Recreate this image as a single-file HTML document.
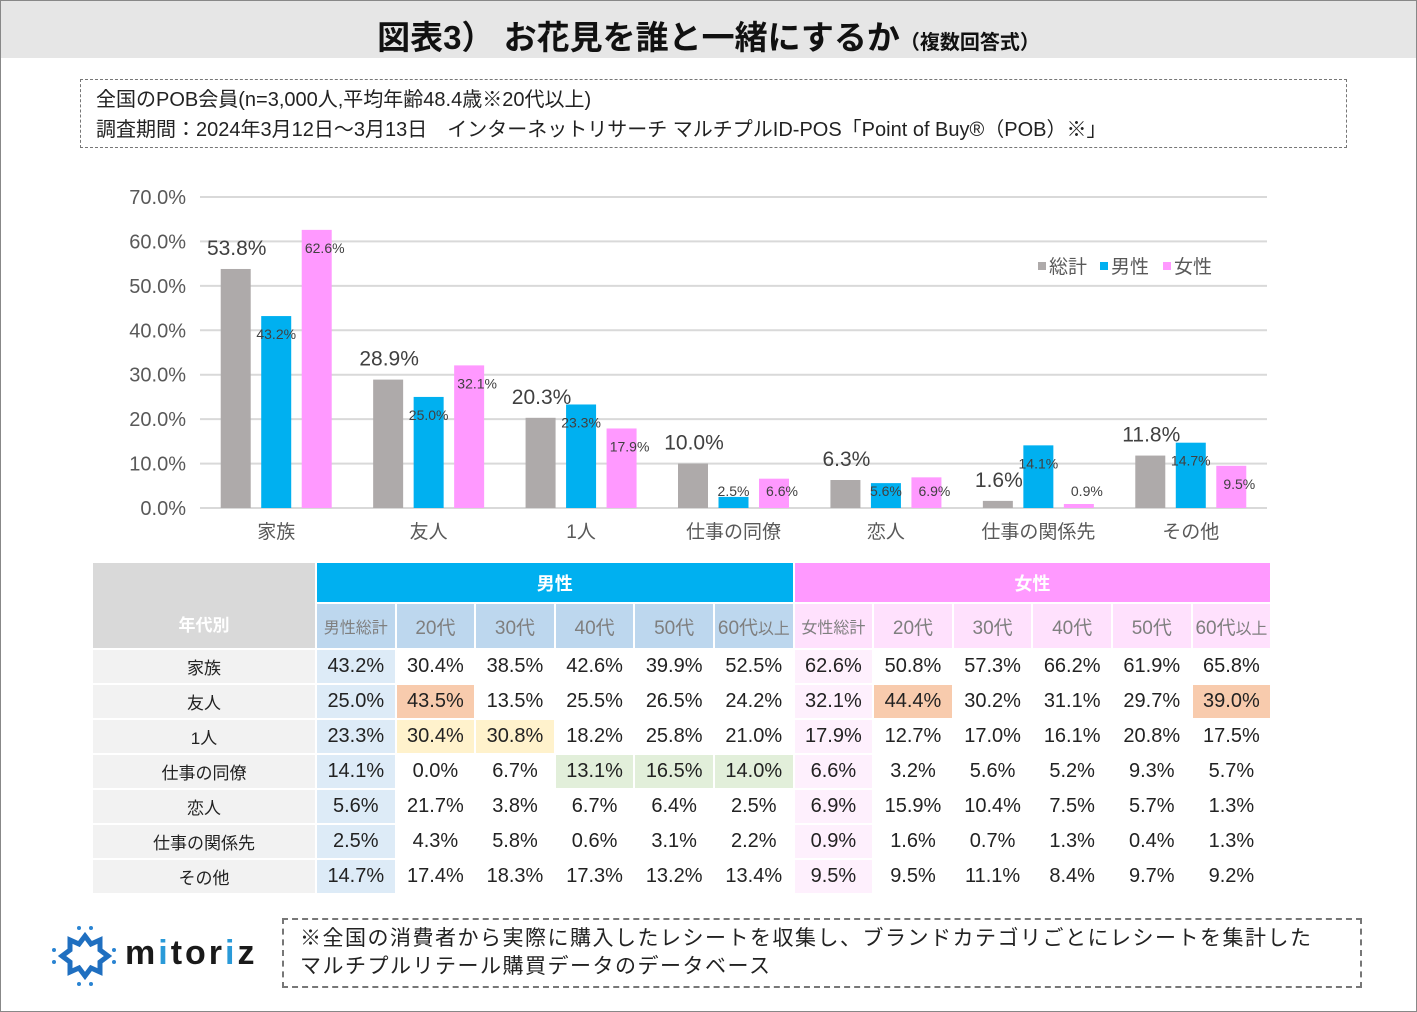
<!DOCTYPE html>
<html><head><meta charset="utf-8">
<style>
body{margin:0;width:1417px;height:1012px;background:#fff;font-family:"Liberation Sans","Noto Sans CJK JP",sans-serif;position:relative;overflow:hidden}
.abs{position:absolute}
table{border-collapse:separate;border-spacing:2px;table-layout:fixed}
</style></head><body>
<div class="abs" style="left:0;top:0;width:1415px;height:1010px;border:1px solid #888"></div>
<div class="abs" style="left:1px;top:1px;width:1415px;height:57px;background:#e6e6e6"></div>
<div class="abs" style="left:0;top:11px;width:1417px;text-align:center;font-size:33px;font-weight:bold;color:#111">図表3） お花見を誰と一緒にするか<span style="font-size:20px">（複数回答式）</span></div>
<div class="abs" style="left:80px;top:79px;width:1267px;height:69px;border:1px dashed #777;font-size:20px;color:#222;line-height:30px;padding-left:15px;box-sizing:border-box;padding-top:5px">
<div>全国のPOB会員(n=3,000人,平均年齢48.4歳※20代以上)</div>
<div>調査期間：2024年3月12日～3月13日　インターネットリサーチ マルチプルID-POS「Point of Buy®（POB）※」</div>
</div>
<svg class="abs" style="left:0;top:0" width="1417" height="560" id="chart"></svg>
<div class="abs" id="tbl" style="left:91px;top:561px"></div>
<div class="abs" style="left:50px;top:924px;width:215px;height:64px">
<svg width="70" height="64">
<polygon points="35,12 41,20 50,16 50,26 58,32 50,38 50,48 41,44 35,52 29,44 20,48 20,38 12,32 20,26 20,16 29,20" fill="none" stroke="#1f6fc0" stroke-width="5"/>
<g fill="#2a84d2"><circle cx="29" cy="4" r="2"/><circle cx="41" cy="4" r="2"/><circle cx="64" cy="26" r="2"/><circle cx="64" cy="38" r="2"/><circle cx="29" cy="60" r="2"/><circle cx="41" cy="60" r="2"/><circle cx="4" cy="26" r="2"/><circle cx="4" cy="38" r="2"/></g></svg>
<div class="abs" style="left:75px;top:10px;font-size:34px;font-weight:bold;color:#1a1a1a;letter-spacing:3px">m<span style="color:#2a9ad8">i</span>tor<span style="color:#2a9ad8">i</span>z</div>
</div>
<div class="abs" style="left:282px;top:918px;width:1080px;height:70px;border:2px dashed #777;box-sizing:border-box;font-size:21px;color:#222;line-height:28px;padding:5px 0 0 16px;letter-spacing:1.5px">※全国の消費者から実際に購入したレシートを収集し、ブランドカテゴリごとにレシートを集計した<br>マルチプルリテール購買データのデータベース</div>
<script>
const categories=["家族","友人","1人","仕事の同僚","恋人","仕事の関係先","その他"];
const totalVals=[53.8,28.9,20.3,10.0,6.3,1.6,11.8];
const maleVals=[43.2,25.0,23.3,2.5,5.6,14.1,14.7];
const femaleVals=[62.6,32.1,17.9,6.6,6.9,0.9,9.5];
const yTicks=[0,10,20,30,40,50,60,70];
const NS="http://www.w3.org/2000/svg";
const svg=document.getElementById('chart');
const y0=508,yTop=197,yMax=70,x0=200,x1=1267;
const yS=v=>y0-(y0-yTop)*v/yMax;
const band=(x1-x0)/categories.length;
const xC=i=>x0+band*(i+0.5);
function el(t,a,txt){const e=document.createElementNS(NS,t);for(const k in a)e.setAttribute(k,a[k]);if(txt!==undefined)e.textContent=txt;svg.appendChild(e);return e;}
yTicks.forEach(v=>{
 const g=el('line',{x1:x0,x2:x1,y1:yS(v),y2:yS(v),stroke:'#d9d9d9','stroke-width':2});
 
 
 const t=el('text',{x:186,y:yS(v)+7,'text-anchor':'end','font-size':20,fill:'#595959'},v.toFixed(1)+'%');
 
 
});
const series=[{vals:totalVals,c:'#aeaaaa',off:-40.5,n:'total'},{vals:maleVals,c:'#00b0f0',off:0,n:'male'},{vals:femaleVals,c:'#ff99ff',off:40.5,n:'female'}];
categories.forEach((c,i)=>{
 series.forEach((s,j)=>{
  const v=s.vals[i],cx=xC(i)+s.off;
  const r=el('rect',{x:cx-15,y:yS(v),width:30,height:y0-yS(v),fill:s.c});
  
  
  let t;
  if(j==0){t=el('text',{x:cx+1,y:yS(v)-14,'text-anchor':'middle','font-size':21,fill:'#404040'},v.toFixed(1)+'%');}
  else{const ly=Math.min(yS(v)+23,496);t=el('text',{x:cx+(j==1?0:8),y:ly,'text-anchor':'middle','font-size':14,fill:'#404040'},v.toFixed(1)+'%');}
  
  
 });
 const t=el('text',{x:xC(i),y:538,'text-anchor':'middle','font-size':19,fill:'#595959'},c);
 
 
});
[['総計','#aeaaaa',1038],['男性','#00b0f0',1100],['女性','#ff99ff',1163]].forEach(l=>{
 const r=el('rect',{x:l[2],y:262,width:8,height:8,fill:l[1]});
 
 
 const t=el('text',{x:l[2]+11,y:273,'font-size':19,fill:'#595959'},l[0]);
 
 
});
// table
const rowLabels=["家族","友人","1人","仕事の同僚","恋人","仕事の関係先","その他"];
const cols=["男性総計","20代","30代","40代","50代","60代<small>以上</small>","女性総計","20代","30代","40代","50代","60代<small>以上</small>"];
const tableVals=[
[43.2,30.4,38.5,42.6,39.9,52.5,62.6,50.8,57.3,66.2,61.9,65.8],
[25.0,43.5,13.5,25.5,26.5,24.2,32.1,44.4,30.2,31.1,29.7,39.0],
[23.3,30.4,30.8,18.2,25.8,21.0,17.9,12.7,17.0,16.1,20.8,17.5],
[14.1,0.0,6.7,13.1,16.5,14.0,6.6,3.2,5.6,5.2,9.3,5.7],
[5.6,21.7,3.8,6.7,6.4,2.5,6.9,15.9,10.4,7.5,5.7,1.3],
[2.5,4.3,5.8,0.6,3.1,2.2,0.9,1.6,0.7,1.3,0.4,1.3],
[14.7,17.4,18.3,17.3,13.2,13.4,9.5,9.5,11.1,8.4,9.7,9.2]];
const hl={"1-1":"#f8cbad","1-7":"#f8cbad","1-11":"#f8cbad","2-1":"#fff2cc","2-2":"#fff2cc","3-3":"#e2efda","3-4":"#e2efda","3-5":"#e2efda"};
const td='style="padding:0;text-align:center;';
let h='<table style="font-size:20px;color:#222;width:1181px"><colgroup><col style="width:222px">';
for(let k=0;k<12;k++)h+='<col style="width:77.6px">';
h+='</colgroup>';
h+='<tr style="height:39px"><td rowspan="2" '+td+'background:#d9d9d9;color:#fff;font-size:17px;font-weight:bold;vertical-align:bottom;padding-bottom:12px">年代別</td>';
h+='<td colspan="6" '+td+'background:#00b0f0;color:#fff;font-size:18px;font-weight:bold">男性</td>';
h+='<td colspan="6" '+td+'background:#ff99ff;color:#fff;font-size:18px;font-weight:bold">女性</td></tr><tr style="height:44px">';
cols.forEach((c,j)=>{h+='<td '+td+'font-size:'+(j%6==0?16:19)+'px;color:#7f7f7f;white-space:nowrap;background:'+(j<6?'#bdd7ee':'#ffe1fd')+'">'+c+'</td>';});
h+='</tr>';
rowLabels.forEach((r,i)=>{
 h+='<tr style="height:33px"><td '+td+'background:#f2f2f2;font-size:17px">'+r+'</td>';
 tableVals[i].forEach((v,j)=>{
  let bg=hl[i+'-'+j]||(j==0?'#ddebf7':j==6?'#fef0fd':'#fff');
  h+='<td '+td+'background:'+bg+'">'+v.toFixed(1)+'%</td>';
 });
 h+='</tr>';
});
h+='</table>';
document.getElementById('tbl').innerHTML=h;
</script>
</body></html>
